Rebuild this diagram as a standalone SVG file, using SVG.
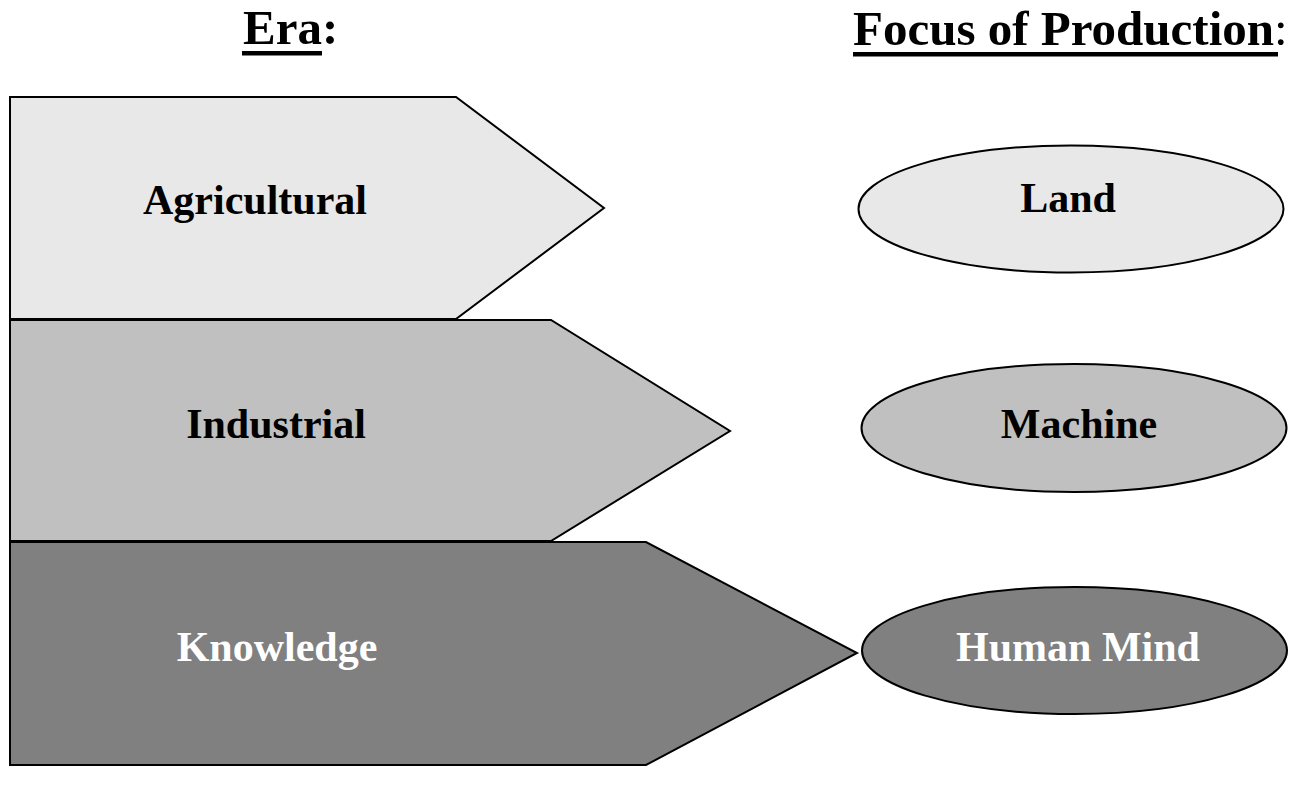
<svg xmlns="http://www.w3.org/2000/svg" width="1298" height="785" viewBox="0 0 1298 785">
<style>
.sh{stroke:#000;stroke-width:2;stroke-linejoin:miter}
.l{fill:#e8e8e8}.m{fill:#c0c0c0}.d{fill:#808080}
.t{font-family:"Liberation Serif","Times New Roman",serif;font-weight:bold;font-size:42px;text-anchor:middle}
.h{font-family:"Liberation Serif","Times New Roman",serif;font-weight:bold;font-size:49px}
</style>
<rect width="1298" height="785" fill="#fff"/>
<g id="headers">
<text class="h" x="243" y="44">Era:</text>
<rect x="242" y="51" width="80" height="4.5" fill="#000"/>
<text class="h" x="853" y="45">Focus of Production<tspan font-weight="normal">:</tspan></text>
<rect x="853" y="52" width="425" height="4.5" fill="#000"/>
</g>
<g id="agricultural">
<polygon class="sh l" points="10,97 456,97 604,208 456,319 10,319"/>
<text class="t" x="255" y="214">Agricultural</text>
</g>
<g id="industrial">
<polygon class="sh m" points="10,320 551,320 730,431 551,541 10,541"/>
<text class="t" x="276" y="438">Industrial</text>
</g>
<g id="knowledge">
<polygon class="sh d" points="10,542 646,542 857,653 646,765 10,765"/>
<text class="t" x="277" y="661" fill="#fff">Knowledge</text>
</g>
<g id="land">
<ellipse class="sh l" cx="1071" cy="209" rx="212.5" ry="63.5"/>
<text class="t" x="1068" y="212">Land</text>
</g>
<g id="machine">
<ellipse class="sh m" cx="1074" cy="428" rx="212.5" ry="64"/>
<text class="t" x="1079" y="438">Machine</text>
</g>
<g id="human-mind">
<ellipse class="sh d" cx="1074.5" cy="650.5" rx="212.5" ry="63.5"/>
<text class="t" x="1078" y="661" fill="#fff">Human Mind</text>
</g>
<g id="connectors"></g>
</svg>
